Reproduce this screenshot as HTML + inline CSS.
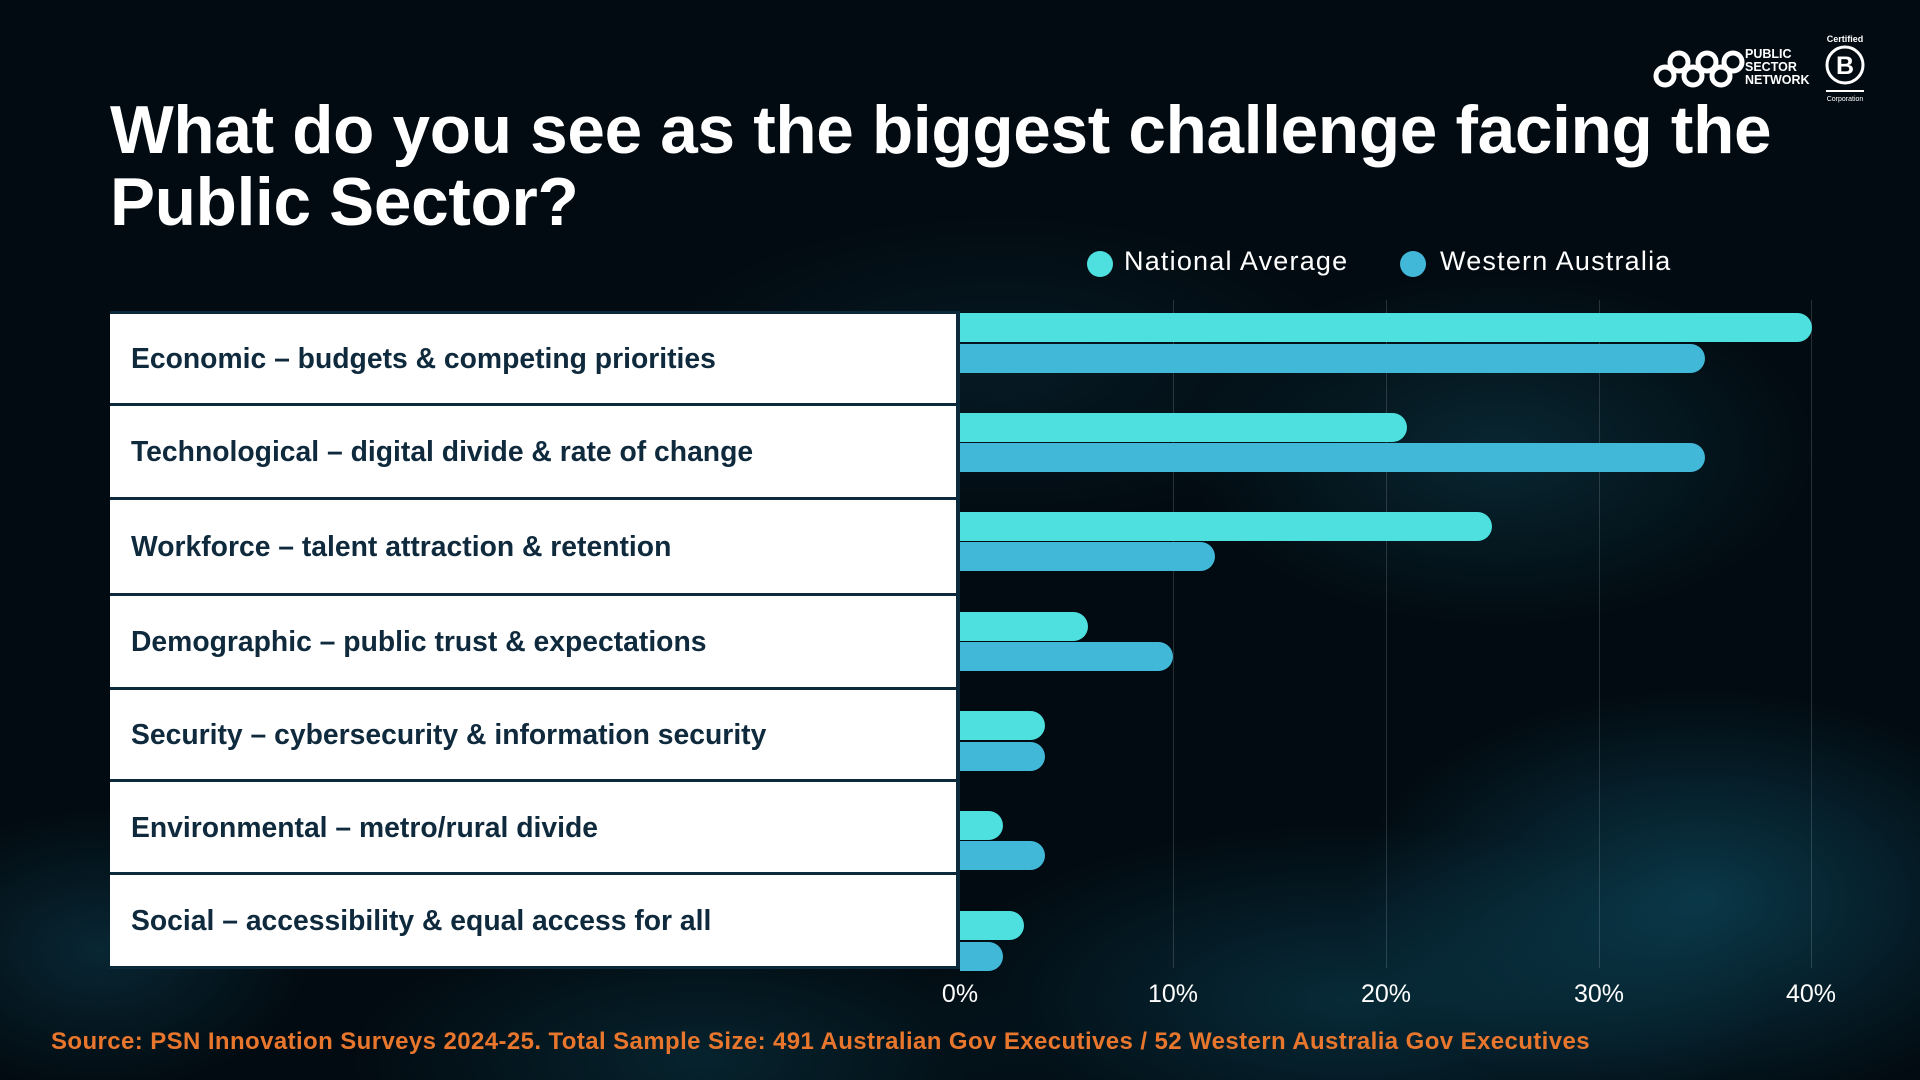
<!DOCTYPE html>
<html><head><meta charset="utf-8"><style>
body{margin:0;width:1920px;height:1080px;overflow:hidden;background:#020b11;font-family:"Liberation Sans",sans-serif;position:relative}
.bg{position:absolute;inset:0;background:
radial-gradient(ellipse 500px 300px at 1700px 900px,rgba(20,110,140,.45),transparent 70%),
radial-gradient(ellipse 600px 250px at 1350px 1000px,rgba(15,90,115,.4),transparent 70%),
radial-gradient(ellipse 450px 250px at 1500px 450px,rgba(20,90,110,.35),transparent 70%),
radial-gradient(ellipse 300px 200px at 100px 950px,rgba(20,90,115,.35),transparent 70%),
radial-gradient(ellipse 500px 220px at 1000px 370px,rgba(15,60,80,.3),transparent 70%),
radial-gradient(ellipse 500px 200px at 700px 1060px,rgba(15,80,100,.35),transparent 70%)}
.t{position:absolute;color:#fff}
h1{position:absolute;left:110px;top:95px;margin:0;color:#fff;font-size:67.5px;line-height:72px;font-weight:bold;letter-spacing:-0.3px}
.row{position:absolute;left:110px;width:846px;background:#fff;border-top:3px solid #0d2a3d;box-sizing:border-box;color:#0f2a3d;font-weight:bold;font-size:28.3px;padding-left:21px;display:flex;align-items:center}
.bar{position:absolute;left:960px;height:29px;border-radius:0 15px 15px 0}
.na{background:#4de0de}.wa{background:#42b8d8}
.grid{position:absolute;top:300px;height:668px;width:1px;background:rgba(255,255,255,.15)}
.ax{position:absolute;top:980px;width:80px;margin-left:-40px;text-align:center;color:#fff;font-size:25px}
.dot{position:absolute;width:26px;height:26px;border-radius:50%}
</style></head><body>
<div class="bg"></div>
<svg style="position:absolute;left:1650px;top:34px" width="270" height="70" viewBox="0 0 270 70">
<g fill="none" stroke="#fff" stroke-width="5">
<circle cx="15" cy="42" r="9"/><circle cx="29" cy="28" r="9"/><circle cx="43" cy="42" r="9"/><circle cx="57" cy="28" r="9"/><circle cx="71" cy="42" r="9"/><circle cx="83" cy="28" r="9"/>
<circle cx="195" cy="31" r="18" stroke-width="3"/><line x1="176" y1="57" x2="214" y2="57" stroke-width="2"/></g>
<text x="195" y="40" fill="#fff" font-size="25" font-weight="bold" text-anchor="middle" font-family="Liberation Sans">B</text>
<text x="195" y="8" fill="#fff" font-size="9" font-weight="bold" text-anchor="middle" font-family="Liberation Sans">Certified</text>
<text x="195" y="67" fill="#fff" font-size="7" text-anchor="middle" font-family="Liberation Sans">Corporation</text>
<g fill="#fff" font-size="12.5" font-weight="bold" font-family="Liberation Sans"><text x="95" y="24">PUBLIC</text><text x="95" y="37">SECTOR</text><text x="95" y="50">NETWORK</text></g>
</svg>
<h1>What do you see as the biggest challenge facing the<br>Public Sector?</h1>
<div class="dot na" style="left:1087px;top:251px"></div><div class="t" style="left:1124px;top:246px;font-size:27px;letter-spacing:1.2px">National Average</div>
<div class="dot wa" style="left:1400px;top:251px"></div><div class="t" style="left:1440px;top:246px;font-size:27px;letter-spacing:1.2px">Western Australia</div>

<div class="grid" style="left:1173px"></div><div class="grid" style="left:1386px"></div><div class="grid" style="left:1599px"></div><div class="grid" style="left:1811px"></div>

<div class="row" style="top:311px;height:92px">Economic – budgets &amp; competing priorities</div>
<div class="row" style="top:403px;height:94px">Technological – digital divide &amp; rate of change</div>
<div class="row" style="top:497px;height:96px">Workforce – talent attraction &amp; retention</div>
<div class="row" style="top:593px;height:94px">Demographic – public trust &amp; expectations</div>
<div class="row" style="top:687px;height:92px">Security – cybersecurity &amp; information security</div>
<div class="row" style="top:779px;height:93px">Environmental – metro/rural divide</div>
<div class="row" style="top:872px;height:97px;border-bottom:3px solid #0d2a3d">Social – accessibility &amp; equal access for all</div>
<div style="position:absolute;left:956px;top:311px;width:4px;height:658px;background:#0d2a3d"></div>

<div class="bar na" style="top:313px;width:852px"></div><div class="bar wa" style="top:344px;width:745px"></div>
<div class="bar na" style="top:413px;width:447px"></div><div class="bar wa" style="top:443px;width:745px"></div>
<div class="bar na" style="top:512px;width:532px"></div><div class="bar wa" style="top:542px;width:255px"></div>
<div class="bar na" style="top:612px;width:128px"></div><div class="bar wa" style="top:642px;width:213px"></div>
<div class="bar na" style="top:711px;width:85px"></div><div class="bar wa" style="top:742px;width:85px"></div>
<div class="bar na" style="top:811px;width:43px"></div><div class="bar wa" style="top:841px;width:85px"></div>
<div class="bar na" style="top:911px;width:64px"></div><div class="bar wa" style="top:942px;width:43px"></div>

<div class="ax" style="left:960px">0%</div><div class="ax" style="left:1173px">10%</div><div class="ax" style="left:1386px">20%</div><div class="ax" style="left:1599px">30%</div><div class="ax" style="left:1811px">40%</div>

<div style="position:absolute;left:51px;top:1028px;color:#e8762d;font-weight:bold;font-size:24px;letter-spacing:0.4px">Source: PSN Innovation Surveys 2024-25. Total Sample Size: 491 Australian Gov Executives / 52 Western Australia Gov Executives</div>
</body></html>
